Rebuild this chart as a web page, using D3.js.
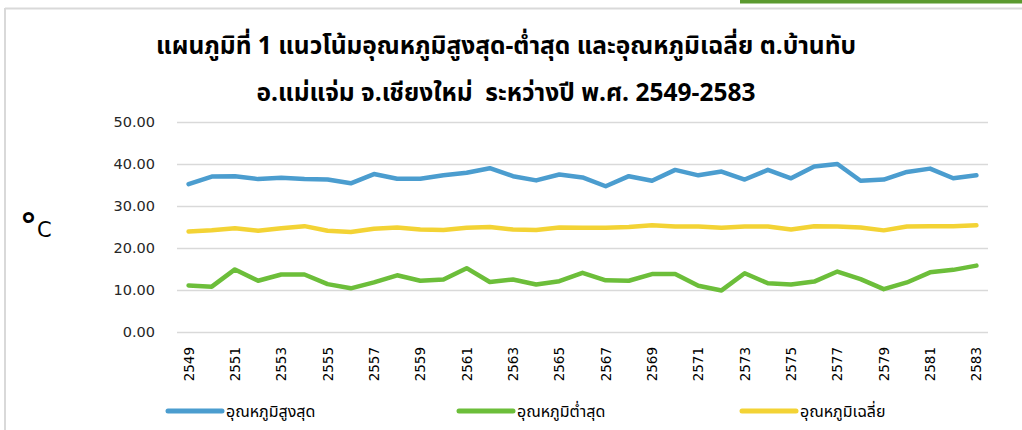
<!DOCTYPE html>
<html>
<head>
<meta charset="utf-8">
<script src="https://cdn.jsdelivr.net/npm/d3@7"></script>
<style>
  body { margin: 0; background: #fff; }
  svg { display: block; font-family: "Noto Sans Thai", Tahoma, "Leelawadee UI", "DejaVu Sans", sans-serif; }
  text { white-space: pre; }
</style>
</head>
<body>
<div id="chart"></div>
<script>
// years (พ.ศ.)
const years = d3.range(2549, 2584);
const maxTemp = [35.2, 37.0, 37.1, 36.4, 36.7, 36.4, 36.3, 35.4, 37.6, 36.5,
  36.5, 37.3, 37.9, 39.0, 37.1, 36.1, 37.5, 36.8, 34.7, 37.1,
  36.0, 38.6, 37.3, 38.2, 36.3, 38.6, 36.6, 39.4, 40.0, 36.0,
  36.3, 38.1, 38.9, 36.6, 37.3];
const minTemp = [11.1, 10.8, 14.9, 12.2, 13.7, 13.7, 11.4, 10.4, 11.8, 13.5,
  12.2, 12.5, 15.2, 11.9, 12.5, 11.3, 12.1, 14.1, 12.3, 12.2,
  13.8, 13.8, 11.0, 9.9, 14.0, 11.6, 11.3, 12.0, 14.4, 12.6,
  10.2, 11.8, 14.2, 14.8, 15.8];
const avgTemp = [23.9, 24.2, 24.7, 24.1, 24.7, 25.2, 24.1, 23.8, 24.6, 24.9,
  24.4, 24.3, 24.8, 25.0, 24.4, 24.3, 24.9, 24.8, 24.8, 25.0,
  25.4, 25.1, 25.1, 24.8, 25.1, 25.1, 24.4, 25.2, 25.1, 24.9,
  24.2, 25.1, 25.2, 25.2, 25.4];
const yTicks = [0, 10, 20, 30, 40, 50];
const seriesNames = ["อุณหภูมิสูงสุด", "อุณหภูมิต่ำสุด", "อุณหภูมิเฉลี่ย"];
const seriesColors = ["#4b9dcf", "#6cbe3a", "#f3d335"];
const titleLines = [
  "แผนภูมิที่ 1 แนวโน้มอุณหภูมิสูงสุด-ต่ำสุด และอุณหภูมิเฉลี่ย ต.บ้านทับ",
  "อ.แม่แจ่ม จ.เชียงใหม่  ระหว่างปี พ.ศ. 2549-2583"
];

const series = [maxTemp, minTemp, avgTemp].map((vals, i) => ({
  name: seriesNames[i],
  color: seriesColors[i],
  values: vals.map((v, j) => ({ year: years[j], value: v }))
}));

const width = 1022, height = 430;
const plot = { left: 177, right: 988, top: 122, bottom: 332 };

const svg = d3.select("#chart").append("svg")
  .attr("width", width)
  .attr("height", height);

// frame
svg.append("rect").attr("x", 740).attr("y", 0).attr("width", 282).attr("height", 3.5).attr("fill", "#5b9a2f");
svg.append("line").attr("x1", 5).attr("x2", width).attr("y1", 8.5).attr("y2", 8.5)
  .attr("stroke", "#d9d9d9").attr("stroke-width", 2);
svg.append("line").attr("x1", 5).attr("x2", 5).attr("y1", 8).attr("y2", height)
  .attr("stroke", "#d9d9d9").attr("stroke-width", 2);

// title
svg.append("g").selectAll("text")
  .data(titleLines)
  .join("text")
  .attr("x", 506)
  .attr("y", (d, i) => 54 + i * 47)
  .attr("text-anchor", "middle")
  .attr("font-size", 24.5)
  .attr("font-weight", "bold")
  .attr("fill", "#000")
  .text(d => d);

// scales
const xScale = d3.scaleBand().domain(years).range([plot.left, plot.right]);
const xPos = d => xScale(d) + xScale.bandwidth() / 2;
const yScale = d3.scaleLinear().domain([0, 50]).range([plot.bottom, plot.top]);

// gridlines
svg.append("g")
  .attr("class", "gridlines")
  .attr("transform", `translate(${plot.left}, 0)`)
  .call(d3.axisLeft(yScale).tickValues(yTicks).tickFormat("").tickSize(-(plot.right - plot.left)))
  .call(g => g.select(".domain").remove())
  .call(g => g.selectAll("line").attr("stroke", "#d9d9d9").attr("stroke-width", 1.5));

// y axis labels
svg.append("g")
  .attr("transform", `translate(${plot.left}, 0)`)
  .call(d3.axisLeft(yScale).tickValues(yTicks).tickFormat(d3.format(".2f")).tickSize(0).tickPadding(22))
  .call(g => g.select(".domain").remove())
  .call(g => g.selectAll("text")
    .attr("font-size", 14.5)
    .attr("font-family", "'DejaVu Sans', Verdana, sans-serif")
    .attr("fill", "#262626"));

// x axis labels (every other year)
svg.append("g")
  .selectAll("text")
  .data(years.filter((d, i) => i % 2 === 0))
  .join("text")
  .attr("transform", d => `translate(${xPos(d) + 5}, 347) rotate(-90)`)
  .attr("text-anchor", "end")
  .attr("font-size", 13.5)
  .attr("font-family", "'DejaVu Sans', Verdana, sans-serif")
  .attr("fill", "#000")
  .text(d => d);

// °C
const unit = svg.append("text").attr("x", 20).attr("y", 237).attr("fill", "#000")
  .attr("font-family", "'DejaVu Sans', sans-serif");
unit.append("tspan").attr("font-size", 34).attr("font-weight", "bold").text("°");
unit.append("tspan").attr("font-size", 21).text("C");

// lines
const line = d3.line()
  .x(d => xPos(d.year))
  .y(d => yScale(d.value));

svg.append("g")
  .selectAll("path")
  .data(series)
  .join("path")
  .attr("d", d => line(d.values))
  .attr("fill", "none")
  .attr("stroke", d => d.color)
  .attr("stroke-width", 4.5)
  .attr("stroke-linejoin", "round")
  .attr("stroke-linecap", "round");

// legend
const legendX = [168, 459, 742];
const legend = svg.append("g")
  .selectAll("g")
  .data(series)
  .join("g")
  .attr("transform", (d, i) => `translate(${legendX[i]}, 411)`);

legend.append("line")
  .attr("x1", 0).attr("x2", 54)
  .attr("stroke", d => d.color)
  .attr("stroke-width", 5)
  .attr("stroke-linecap", "round");

legend.append("text")
  .attr("x", 58)
  .attr("y", 6)
  .attr("font-size", 16)
  .attr("fill", "#000")
  .text(d => d.name);
</script>
</body>
</html>
